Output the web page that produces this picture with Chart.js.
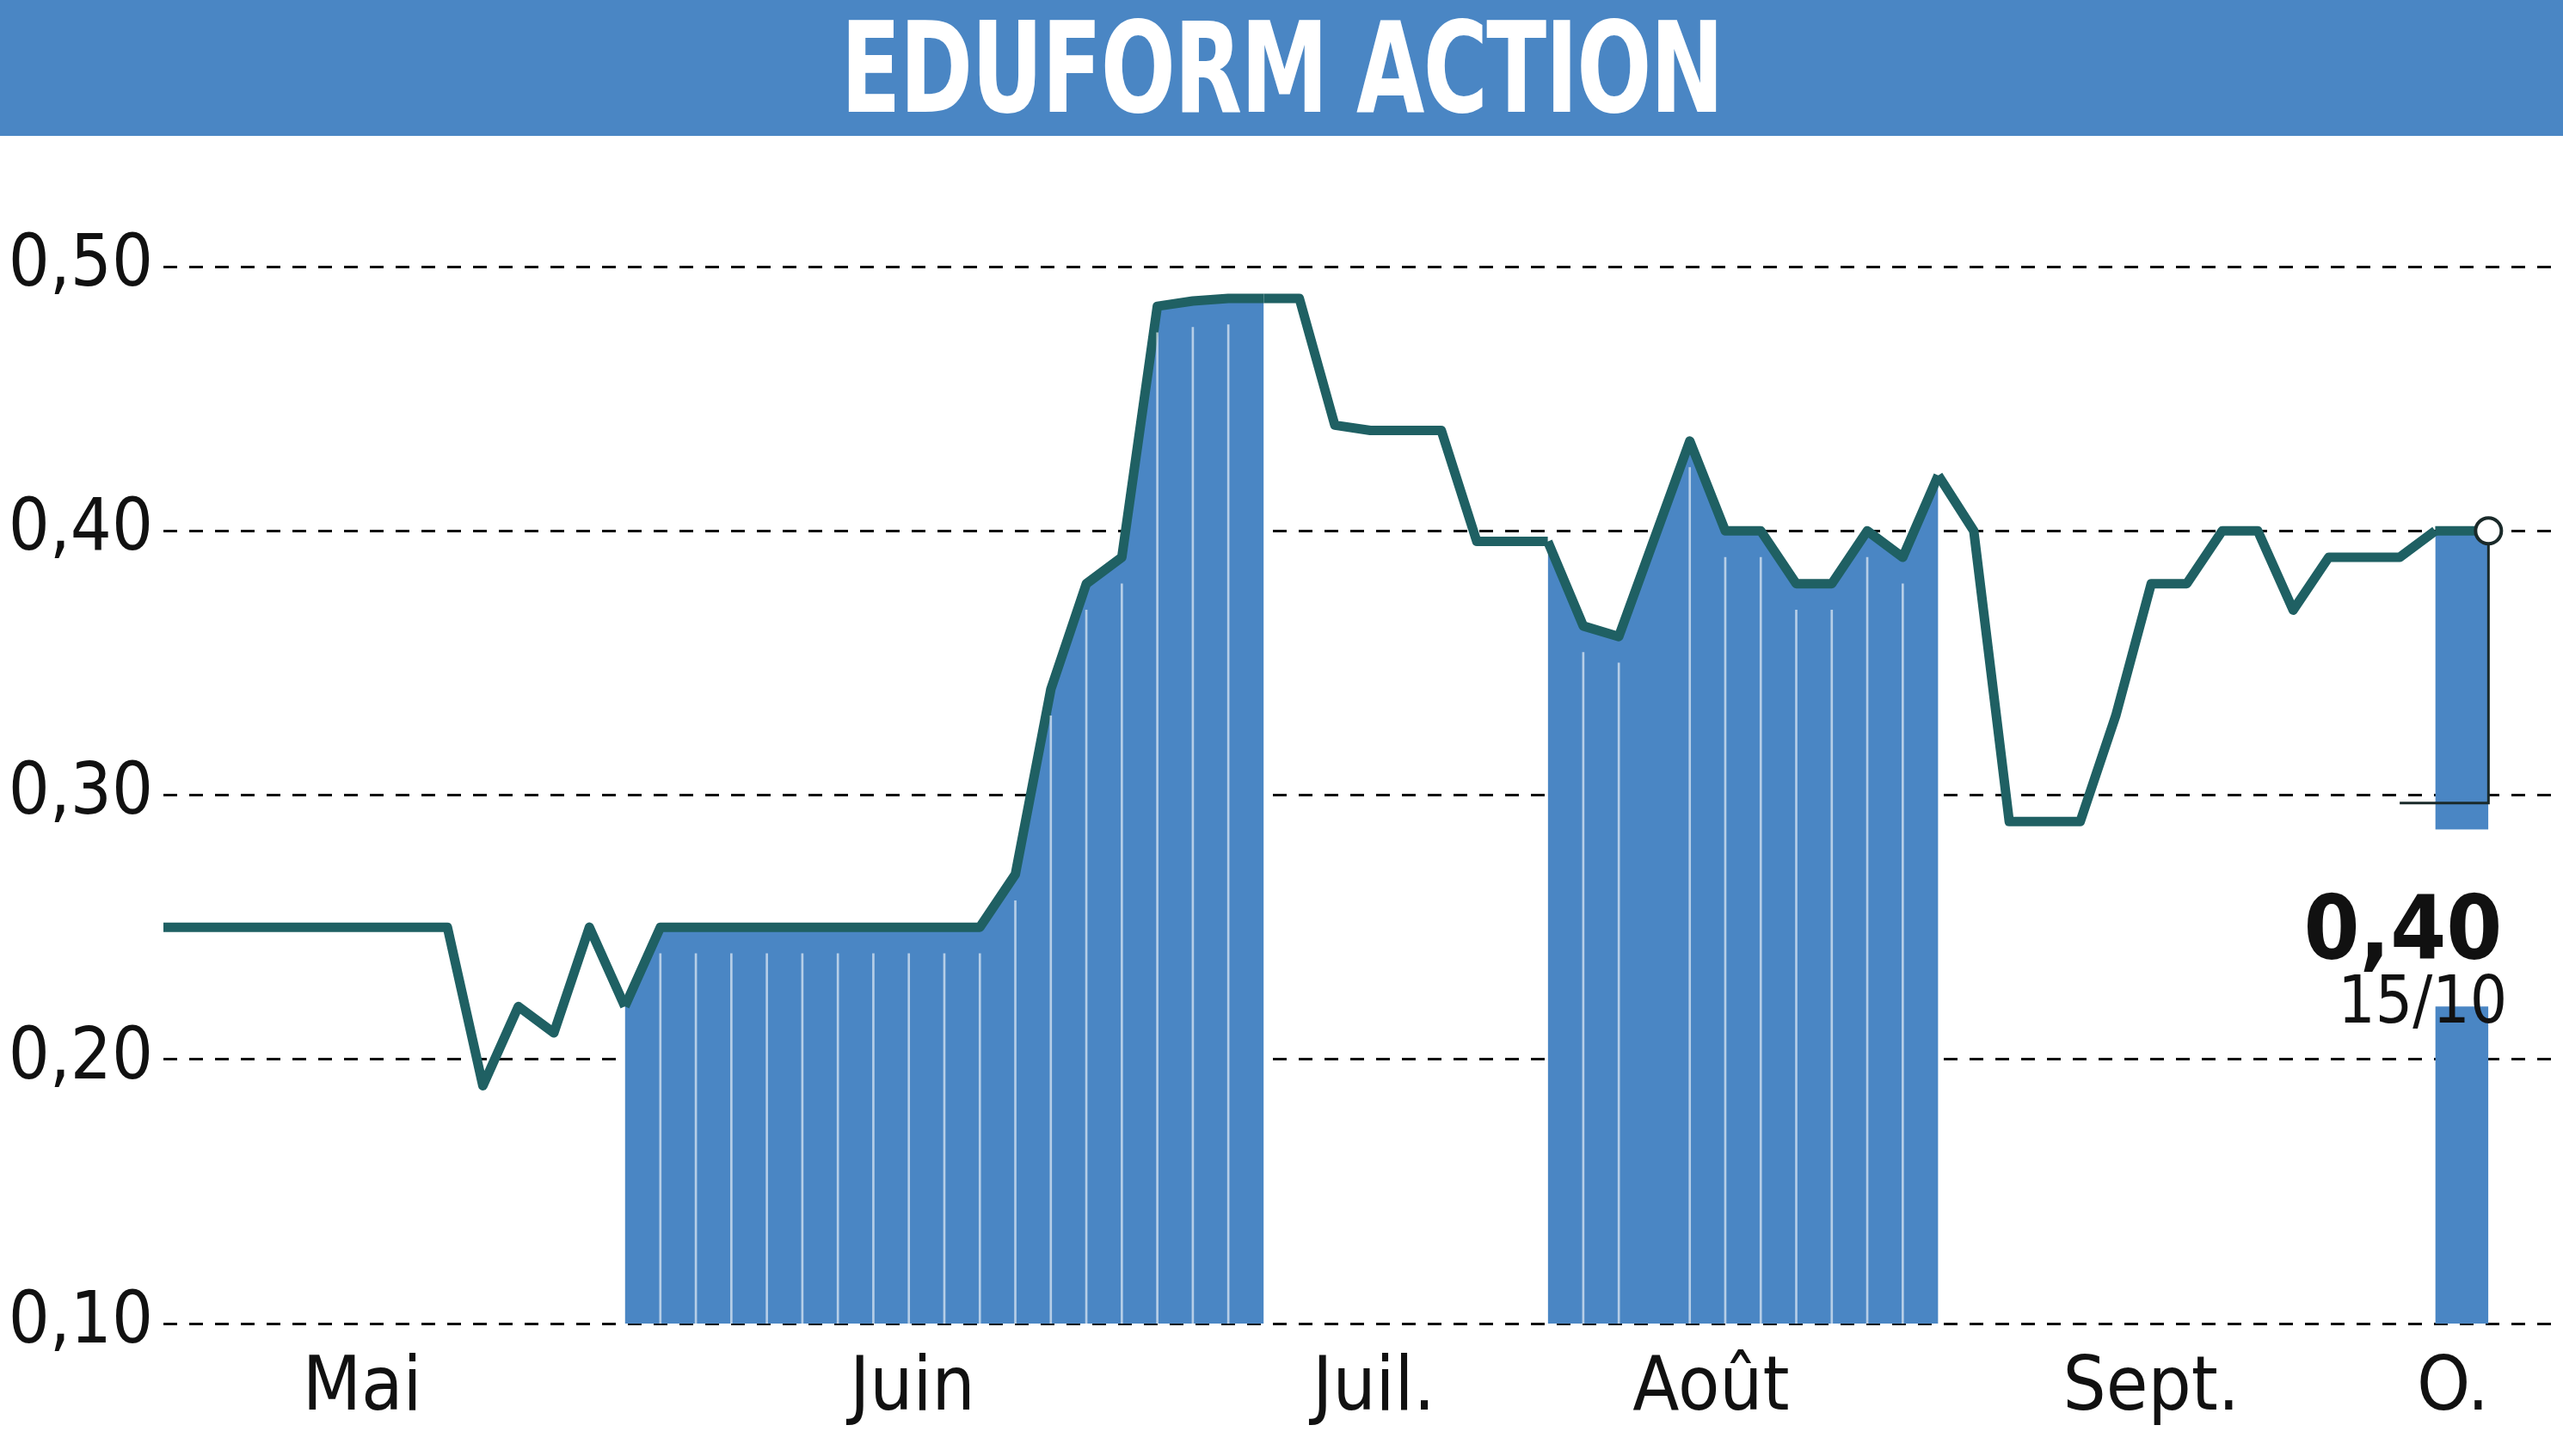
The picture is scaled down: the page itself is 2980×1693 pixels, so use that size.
<!DOCTYPE html>
<html><head><meta charset="utf-8">
<script src="https://cdn.jsdelivr.net/npm/chart.js@4"></script>
<style>
html,body{margin:0;padding:0;background:#fff;width:2980px;height:1693px;overflow:hidden}
#title{position:absolute;left:0;top:0;width:2980px;height:158px;background:#4a86c4;z-index:2;text-align:center}
#title span{display:inline-block;color:#fff;font-family:'DejaVu Sans Condensed','Liberation Sans Narrow',sans-serif;font-weight:bold;font-size:146px;line-height:158px;transform:scaleX(0.78);letter-spacing:-2px;margin-left:0px}
#wrap{position:absolute;left:0;top:94px;width:2980px;height:1599px;z-index:1}
</style></head><body>
<div id="title"><span>EDUFORM ACTION</span></div>
<div id="wrap"><canvas id="c"></canvas></div>
<script>
const days   = [0,8,9,10,11,12,13,14,15,16,17,18,19,20,21,22,23,24,25,26,27,28,29,30,31,32,33,34,36,37,39,40,41,43,44,45,46,47,48,49,50,51,52,54,55,56,57,58,59,60,61,62,63,64,65.5];
const prices = [0.25,0.25,0.19,0.22,0.21,0.25,0.22,0.25,0.25,0.25,0.25,0.25,0.25,0.25,0.25,0.25,0.25,0.27,0.34,0.38,0.39,0.485,0.487,0.488,0.488,0.488,0.44,0.438,0.438,0.396,0.396,0.364,0.36,0.434,0.40,0.40,0.38,0.38,0.40,0.39,0.421,0.40,0.29,0.29,0.33,0.38,0.38,0.40,0.40,0.37,0.39,0.39,0.39,0.40,0.40];
const fillRanges = [[13,31],[39,50],[64,65.5]];
const yTicks = [0.1,0.2,0.3,0.4,0.5];
const monthLabels = ['Mai','Juin','Juil.','Août','Sept.','O.'];
const monthPos    = [5.6,21.1,34.1,43.6,56.0,64.5];
const lastLabel = '0,40', lastDate = '15/10';

const BLUE='#4a86c4', LINE='#1f6063';
const FONT="'DejaVu Sans Condensed','Liberation Sans Narrow',sans-serif";
const inFill = x => fillRanges.some(r => x>=r[0] && x<=r[1]);
const pts = days.map((d,i)=>({x:d,y:prices[i]}));
const seps = pts.filter(p=>inFill(p.x) && fillRanges.every(r=>p.x!==r[0]&&p.x!==r[1]));

const annot = {
  id:'annot',
  afterDatasetsDraw(ch){
    const {ctx,scales:{x,y}} = ch;
    const lp = pts[pts.length-1];
    const px=x.getPixelForValue(lp.x), py=y.getPixelForValue(lp.y);
    ctx.save();
    ctx.fillStyle='#fff';
    ctx.fillRect(px-80, y.getPixelForValue(0.287), 100, y.getPixelForValue(0.22)-y.getPixelForValue(0.287));
    ctx.strokeStyle='#1a2a2a'; ctx.lineWidth=3;
    ctx.beginPath(); ctx.moveTo(px,py); ctx.lineTo(px,y.getPixelForValue(0.297)); ctx.lineTo(x.getPixelForValue(63),y.getPixelForValue(0.297)); ctx.stroke();
    ctx.fillStyle='#fff'; ctx.lineWidth=4;
    ctx.beginPath(); ctx.arc(px,py,15,0,Math.PI*2); ctx.fill(); ctx.stroke();
    ctx.fillStyle='#111'; ctx.textAlign='right'; ctx.textBaseline='alphabetic';
    ctx.font='bold 104px '+FONT; ctx.fillText(lastLabel, px+16, y.getPixelForValue(0.238));
    ctx.font='76px '+FONT; ctx.fillText(lastDate, px+22, y.getPixelForValue(0.214));
    ctx.restore();
  }
};

new Chart(document.getElementById('c'),{
  type:'line',
  data:{datasets:[
    {data:pts,borderColor:LINE,borderWidth:11,pointRadius:0,tension:0,fill:'origin',
     backgroundColor:BLUE,order:2,borderJoinStyle:'round',
     segment:{backgroundColor:c=>inFill(c.p0.parsed.x)&&inFill(c.p1.parsed.x)?BLUE:'rgba(0,0,0,0)'}},
    {type:'bar',data:seps.map(p=>({x:p.x,y:p.y-0.01})),backgroundColor:'rgba(255,255,255,0.6)',barThickness:2,order:1}
  ]},
  options:{
    responsive:true,maintainAspectRatio:false,animation:false,
    plugins:{legend:{display:false},tooltip:{enabled:false}},
    layout:{padding:0},
    scales:{
      x:{type:'linear',min:0,max:67.6,offset:false,grid:{display:false},border:{display:false},
         afterFit:s=>{s.height=154},
         afterBuildTicks:s=>{s.ticks=monthPos.map(v=>({value:v}))},
         ticks:{autoSkip:false,maxRotation:0,padding:16,color:'#111',font:{family:FONT,size:88},
           callback:(v,i)=>monthLabels[i]}},
      y:{min:0.1,max:0.55,
         afterFit:s=>{s.width=190},
         afterBuildTicks:s=>{s.ticks=yTicks.map(v=>({value:v}))},
         grid:{color:'#111',lineWidth:3,drawTicks:false},
         border:{display:false,dash:[16,14]},
         ticks:{padding:12,color:'#111',font:{family:FONT,size:84},
           callback:v=>v.toFixed(2).replace('.',',')}}
    }
  },
  plugins:[annot]
});
</script></body></html>
